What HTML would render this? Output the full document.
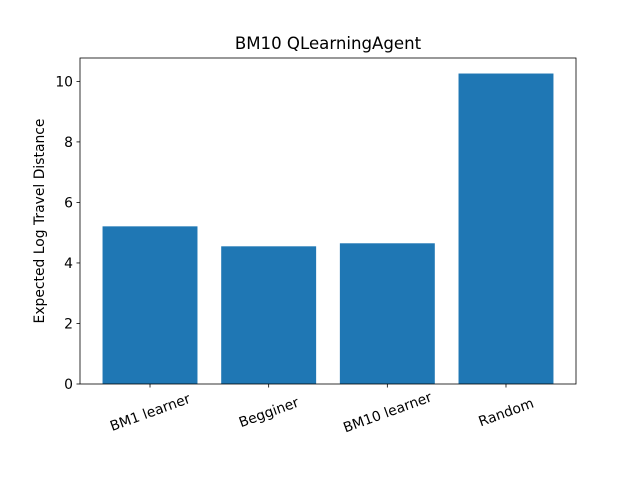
<!DOCTYPE html>
<html><head><meta charset="utf-8"><style>body{margin:0;background:#fff}svg{font-family:"DejaVu Sans","Liberation Sans",sans-serif}</style></head>
<body>
<svg id="c" width="640" height="480"></svg>
<script>
const categories = ["BM1 learner", "Begginer", "BM10 learner", "Random"];
const values = [5.21, 4.55, 4.65, 10.26];
const yTicks = [0, 2, 4, 6, 8, 10];
const title = "BM10 QLearningAgent";
const yLabel = "Expected Log Travel Distance";

const NS = "http://www.w3.org/2000/svg";
const svg = document.getElementById("c");
const L = 80, R = 576, T = 58, B = 384;
const ymax = Math.max(...values) * 1.05;
const xmin = -0.59, xmax = categories.length - 1 + 0.59;
const xs = v => L + (v - xmin) / (xmax - xmin) * (R - L);
const ys = v => B - v / ymax * (B - T);
function mk(tag, attrs, text) {
  const e = document.createElementNS(NS, tag);
  for (const k in attrs) e.setAttribute(k, attrs[k]);
  if (text !== undefined) e.textContent = text;
  svg.appendChild(e);
  return e;
}
categories.forEach((c, i) => {
  const x0 = xs(i - 0.4), x1 = xs(i + 0.4);
  const b = mk("rect", {x: x0, y: ys(values[i]), width: x1 - x0, height: B - ys(values[i]), fill: "#1f77b4"});
  
  
  const tk = mk("line", {x1: xs(i), x2: xs(i), y1: B, y2: B + 3.5, stroke: "#000", "stroke-width": 0.8});
  
  
  const cy = B + 28;
  const t = mk("text", {x: xs(i), y: cy + 5, "font-size": 13.9, "text-anchor": "middle", transform: `rotate(-20 ${xs(i)} ${cy})`}, c);
  
  
});
yTicks.forEach(v => {
  const tk = mk("line", {x1: L - 3.5, x2: L, y1: ys(v), y2: ys(v), stroke: "#000", "stroke-width": 0.8});
  
  
  const t = mk("text", {x: L - 7, y: ys(v) + 5, "font-size": 13.9, "text-anchor": "end"}, String(v));
  
  
});
const fr = mk("rect", {x: L, y: T, width: R - L, height: B - T, fill: "none", stroke: "#000", "stroke-width": 0.8});


const tt = mk("text", {x: (L + R) / 2, y: 49, "font-size": 16.6, "text-anchor": "middle"}, title);


const yl = mk("text", {x: 44, y: (T + B) / 2, "font-size": 13.9, "text-anchor": "middle", transform: `rotate(-90 44 ${(T + B) / 2})`}, yLabel);


</script>
</body></html>
